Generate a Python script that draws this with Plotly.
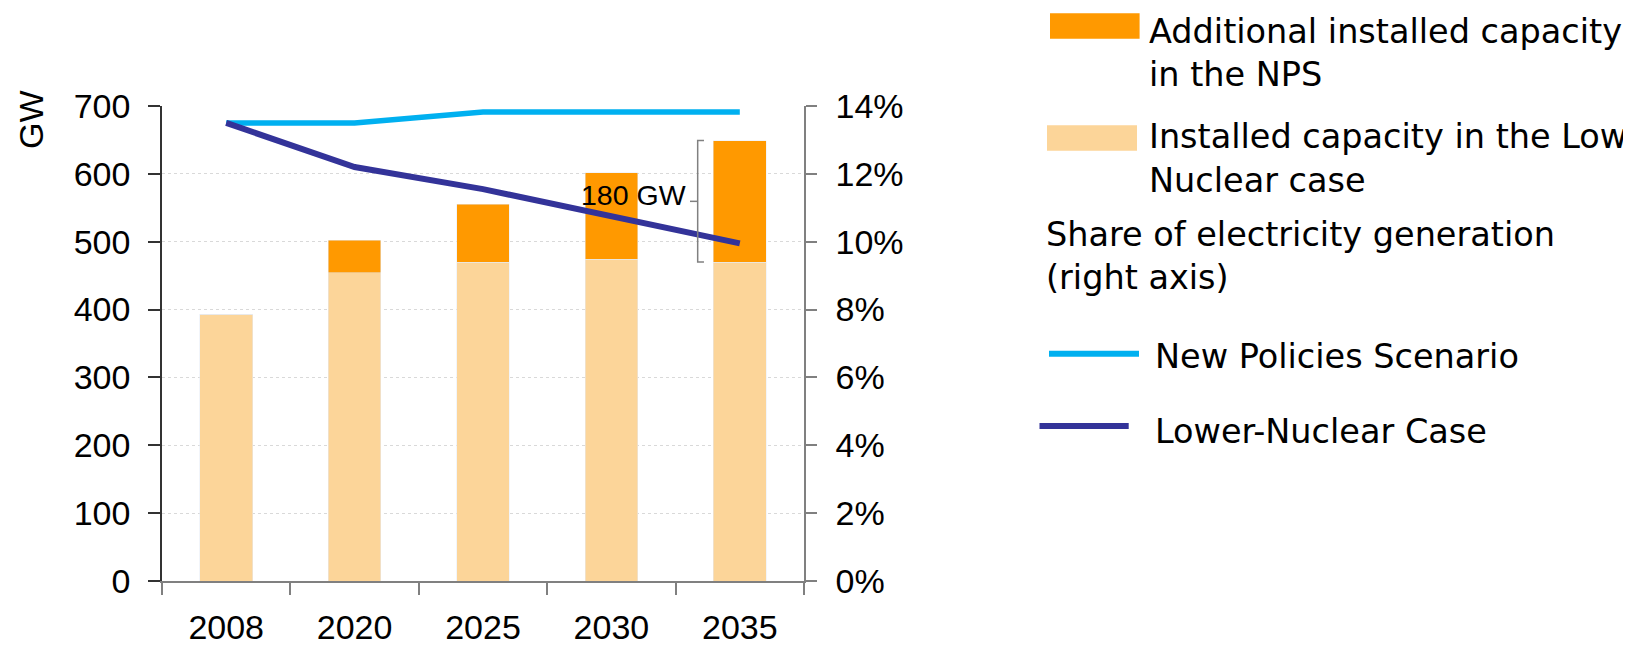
import plotly.graph_objects as go

# ---------------- data ----------------
years = ["2008", "2020", "2025", "2030", "2035"]
low_nuclear_capacity = [393, 454, 470, 474, 470]      # GW, Lower-Nuclear case
additional_nps_capacity = [0, 48, 85, 128, 179]       # GW, extra in NPS
nps_share = [13.5, 13.5, 13.82, 13.82, 13.82]         # % of generation
lower_nuclear_share = [13.5, 12.2, 11.55, 10.75, 9.95]  # % of generation
left_ticks = [0, 100, 200, 300, 400, 500, 600, 700]
right_ticks = [0, 2, 4, 6, 8, 10, 12, 14]

# ---------------- style ----------------
C_LIGHT = "#FCD599"
C_ORANGE = "#FF9900"
C_NPS = "#00B0F0"
C_LOW = "#333399"
GRID = "#D9D9D9"
AXGREY = "#808080"
TICK_FONT = dict(family="Liberation Sans, Arial, sans-serif", size=34, color="#000000")
LEG_FONT = dict(family="DejaVu Sans, sans-serif", size=33.5, color="#000000")

# page body has a default 8px margin: compensate so that the figure
# lands on the 1631x648 window exactly
OFF = 8
W, H = 1631 - OFF, 648 - OFF
L, R, T, B = 162, 804, 106, 581   # plot area in window pixels


def px(x):
    return (x - L) / (R - L)


def py(y):
    return (B - y) / (B - T)


fig = go.Figure()
fig.add_trace(go.Bar(x=years, y=low_nuclear_capacity, marker_color=C_LIGHT,
                     width=0.41, name="Installed capacity in the Low Nuclear case"))
fig.add_trace(go.Bar(x=years, y=additional_nps_capacity, marker_color=C_ORANGE,
                     width=0.41, name="Additional installed capacity in the NPS"))
fig.add_trace(go.Scatter(x=years, y=[v / 100 for v in nps_share], yaxis="y2",
                         mode="lines", line=dict(color=C_NPS, width=5.5),
                         name="New Policies Scenario"))
fig.add_trace(go.Scatter(x=years, y=[v / 100 for v in lower_nuclear_share], yaxis="y2",
                         mode="lines", line=dict(color=C_LOW, width=6),
                         name="Lower-Nuclear Case"))

fig.update_layout(
    width=W, height=H,
    margin=dict(l=L - OFF, r=1631 - R, t=T - OFF, b=648 - B, pad=0, autoexpand=False),
    paper_bgcolor="white", plot_bgcolor="white",
    barmode="stack", showlegend=False,
    xaxis=dict(type="category", showline=True, linecolor=AXGREY, linewidth=1.5,
               ticks="outside", tickson="boundaries", ticklen=12, tickcolor=AXGREY,
               tickwidth=1.5, tickfont=TICK_FONT, showgrid=False,
               ticklabelstandoff=15, range=[-0.5, 4.5]),
    yaxis=dict(range=[0, 700], tickvals=left_ticks, showline=True, linecolor="#333333",
               linewidth=1.5, ticks="outside", ticklen=12, tickcolor="#333333",
               tickwidth=1.5, tickfont=TICK_FONT, showgrid=True, gridcolor=GRID,
               griddash="dot", gridwidth=1, zeroline=False, ticklabelstandoff=11),
    yaxis2=dict(range=[0, 0.14], tickvals=[v / 100 for v in right_ticks],
                tickformat=".0%", overlaying="y", side="right", showline=True,
                linecolor=AXGREY, linewidth=1.5, ticks="outside", ticklen=11,
                tickcolor=AXGREY, tickwidth=1.5, tickfont=TICK_FONT, showgrid=False,
                zeroline=False, ticklabelstandoff=12),
)

# y-axis title "GW"
fig.add_annotation(text="GW", xref="paper", yref="paper", x=px(31), y=py(120),
                   showarrow=False, textangle=-90, font=dict(TICK_FONT, size=34),
                   xanchor="center", yanchor="middle")

# bracket + "180 GW" label for the 2035 additional capacity
y_bot = low_nuclear_capacity[4]
y_top = low_nuclear_capacity[4] + additional_nps_capacity[4]
y_mid = (y_bot + y_top) / 2
fig.add_shape(type="path", xref="x", yref="y",
              path=f"M 3.721,{y_top} L 3.672,{y_top} L 3.672,{y_bot} L 3.721,{y_bot}",
              line=dict(color=AXGREY, width=1.5))
fig.add_shape(type="line", xref="x", yref="y", x0=3.612, x1=3.672, y0=y_mid, y1=y_mid,
              line=dict(color=AXGREY, width=1.5))
fig.add_annotation(text="180 GW", xref="x", yref="y", x=3.60, y=y_mid, yshift=6,
                   showarrow=False, xanchor="right", yanchor="middle",
                   font=dict(TICK_FONT, size=28.5))

# ---------------- custom legend ----------------
fig.add_shape(type="rect", xref="paper", yref="paper", x0=px(1050), x1=px(1139.6),
              y0=py(38.7), y1=py(13.3), fillcolor=C_ORANGE, line_width=0)
fig.add_shape(type="rect", xref="paper", yref="paper", x0=px(1047), x1=px(1137),
              y0=py(150.7), y1=py(125.3), fillcolor=C_LIGHT, line_width=0)
fig.add_shape(type="line", xref="paper", yref="paper", x0=px(1049), x1=px(1139),
              y0=py(353.7), y1=py(353.7), line=dict(color=C_NPS, width=6))
fig.add_shape(type="line", xref="paper", yref="paper", x0=px(1039.5), x1=px(1128.7),
              y0=py(426), y1=py(426), line=dict(color=C_LOW, width=6))

legend_lines = [
    ("Additional installed capacity", 1147, 31.5),
    ("in the NPS", 1147, 74.5),
    ("Installed capacity in the Low", 1147, 136.3),
    ("Nuclear case", 1147, 180.7),
    ("Share of electricity generation", 1043.5, 234),
    ("(right axis)", 1043.5, 277.3),
    ("New Policies Scenario", 1153, 356.3),
    ("Lower-Nuclear Case", 1153, 431.3),
]
for txt, lx, ly in legend_lines:
    fig.add_annotation(text=txt, xref="paper", yref="paper", x=px(lx), y=py(ly),
                       showarrow=False, xanchor="left", yanchor="middle", font=LEG_FONT)

fig.write_html("out.html")
